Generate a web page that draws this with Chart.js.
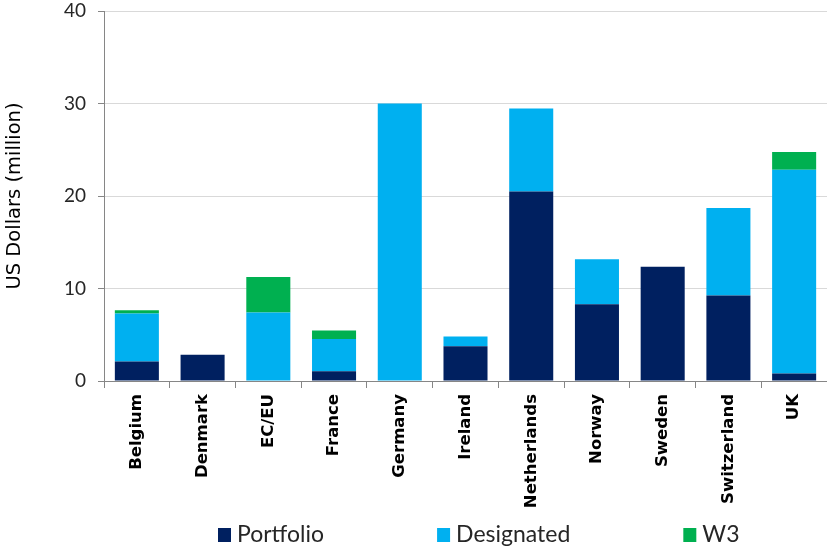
<!DOCTYPE html>
<html>
<head>
<meta charset="utf-8">
<script src="https://cdn.jsdelivr.net/npm/chart.js@4/dist/chart.umd.min.js"></script>
<style>
  html, body { margin: 0; padding: 0; background: #fff; }
  #wrap { width: 827px; height: 546px; position: relative; }
</style>
</head>
<body>
<div id="wrap"><canvas id="c" width="827" height="546"></canvas></div>
<script>
const categories = ["Belgium", "Denmark", "EC/EU", "France", "Germany", "Ireland", "Netherlands", "Norway", "Sweden", "Switzerland", "UK"];
const portfolio  = [2.1, 2.85, 0, 1.05, 0, 3.75, 20.5, 8.3, 12.35, 9.25, 0.8];
const designated = [5.2, 0, 7.4, 3.5, 30.0, 1.05, 8.95, 4.85, 0, 9.45, 22.05];
const w3         = [0.35, 0, 3.85, 0.9, 0, 0, 0, 0, 0, 0, 1.9];
const yTicks = [0, 10, 20, 30, 40];

const FONT = "Lato, 'Open Sans', 'Liberation Sans', sans-serif";
const WIDE = "'DejaVu Sans', 'Open Sans', sans-serif";

const customLegend = {
  id: 'customLegend',
  afterDraw(chart) {
    const ctx = chart.ctx;
    ctx.save();
    ctx.font = "23px " + FONT;
    ctx.textBaseline = 'alphabetic';
    ctx.textAlign = 'left';
    let x = 218;
    const base = 542;
    chart.data.datasets.forEach(ds => {
      ctx.fillStyle = ds.backgroundColor;
      ctx.fillRect(x, base - 14, 13, 14);
      ctx.fillStyle = '#262626';
      ctx.fillText(ds.label, x + 19, base);
      const w = ctx.measureText(ds.label).width;
      x += 19 + w + 113;
    });
    ctx.restore();
  }
};

new Chart(document.getElementById('c'), {
  type: 'bar',
  data: {
    labels: categories,
    datasets: [
      { label: 'Portfolio', data: portfolio, backgroundColor: '#002060' },
      { label: 'Designated', data: designated, backgroundColor: '#00B0F0' },
      { label: 'W3', data: w3, backgroundColor: '#00B050' }
    ]
  },
  options: {
    responsive: false,
    animation: false,
    devicePixelRatio: 1,
    layout: { padding: { top: 11, left: 0, right: 0, bottom: 0 } },
    datasets: { bar: { categoryPercentage: 1.0, barPercentage: 0.67, borderWidth: 0 } },
    plugins: {
      legend: { display: false },
      tooltip: { enabled: false }
    },
    scales: {
      x: {
        stacked: true,
        afterFit(scale) { scale.height = 165; },
        grid: {
          display: true,
          drawOnChartArea: false,
          drawTicks: true,
          tickLength: 7,
          tickColor: '#868686',
          offset: true
        },
        border: { display: true, color: '#868686', width: 1 },
        ticks: {
          minRotation: 90,
          maxRotation: 90,
          autoSkip: false,
          padding: 6,
          color: '#000',
          font: { family: WIDE, size: 16.5, weight: 'bold' }
        }
      },
      y: {
        stacked: true,
        min: 0,
        max: 40,
        afterFit(scale) { scale.width = 104; scale.paddingTop = 0; scale.paddingBottom = 0; },
        afterBuildTicks(scale) { scale.ticks = yTicks.map(v => ({ value: v })); },
        grid: {
          color: '#d9d9d9',
          lineWidth: 1,
          drawTicks: true,
          tickLength: 6,
          tickColor: '#868686'
        },
        border: { display: true, color: '#868686', width: 1 },
        ticks: {
          padding: 12,
          color: '#262626',
          font: { family: FONT, size: 19 }
        },
        title: {
          display: true,
          text: 'US Dollars (million)',
          color: '#000',
          padding: { top: 3, bottom: 0 },
          font: { family: WIDE, size: 19.5 }
        }
      }
    }
  },
  plugins: [customLegend]
});
</script>
</body>
</html>
